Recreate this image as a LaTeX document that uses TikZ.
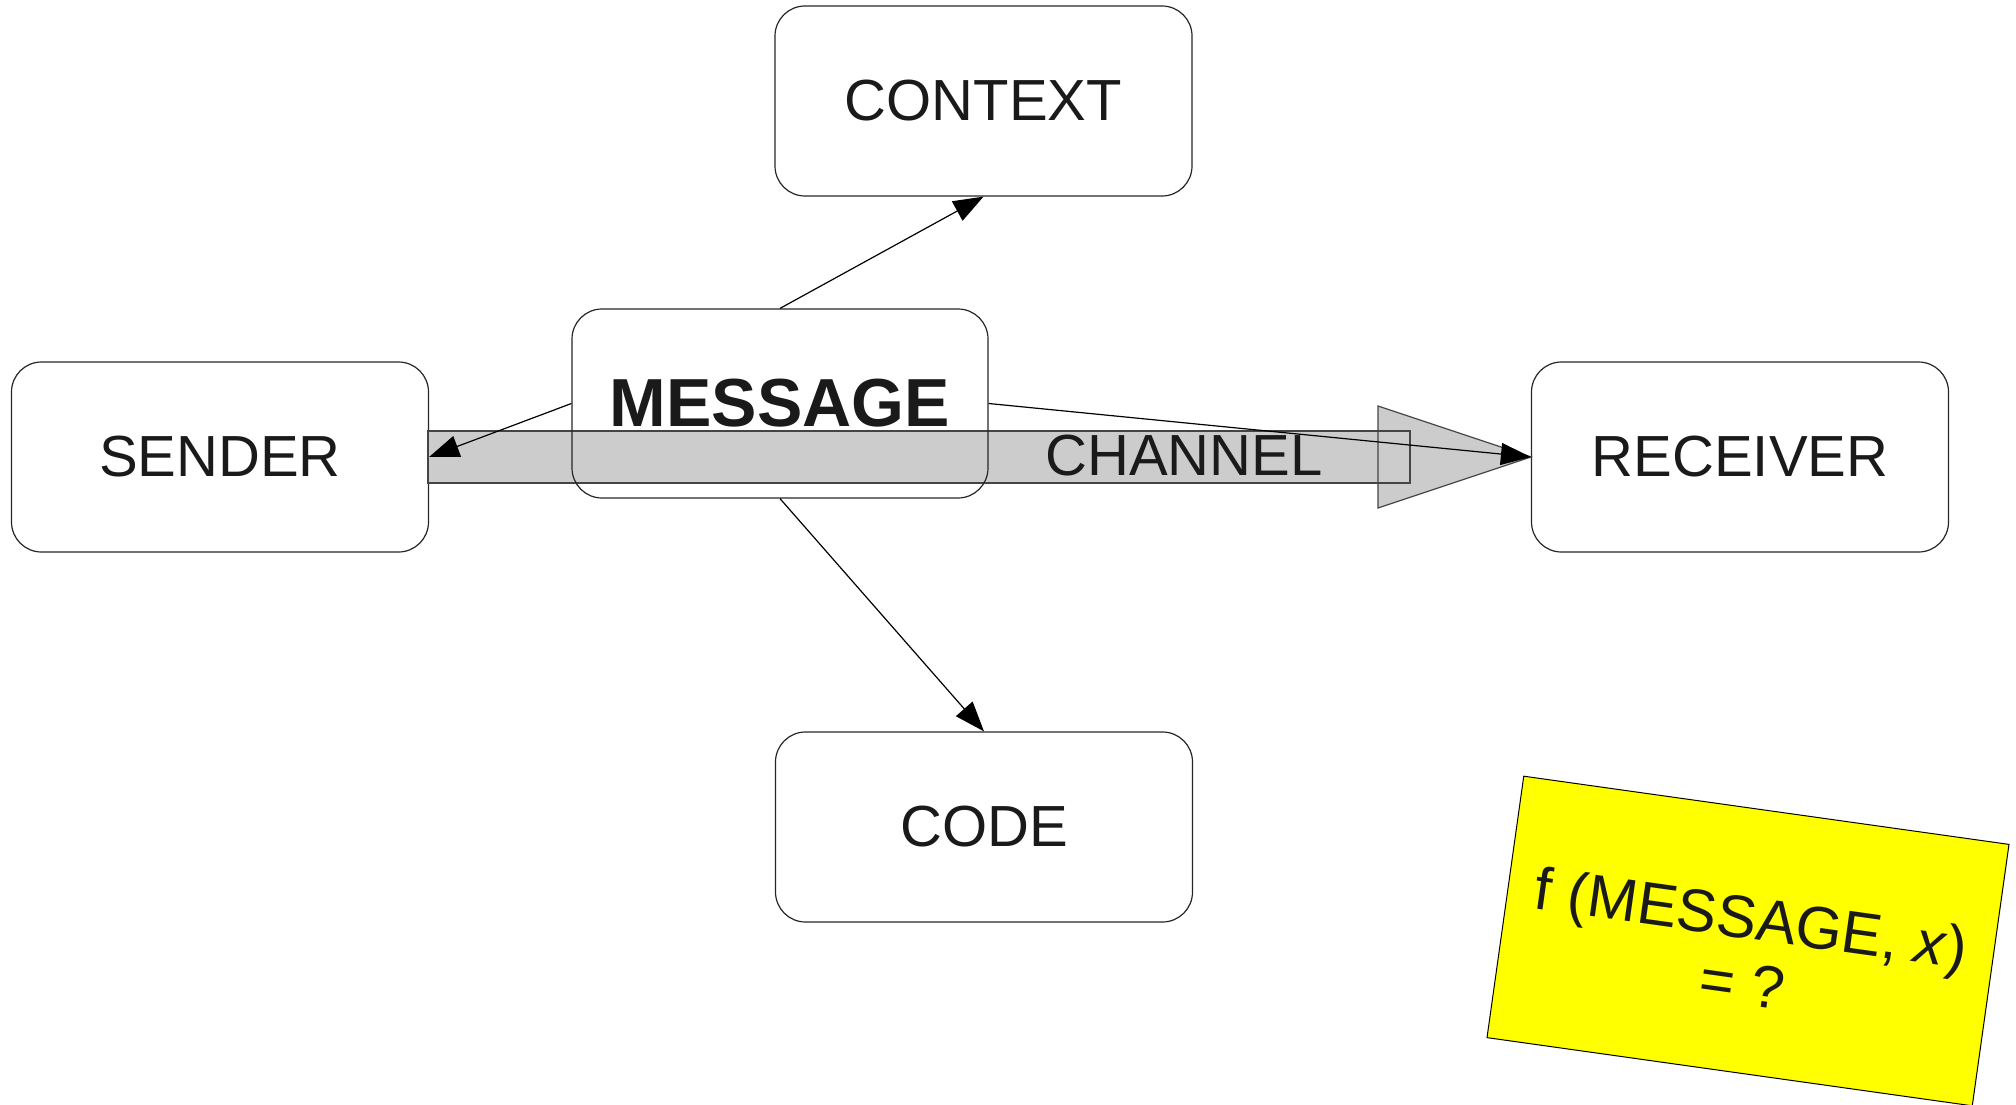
\documentclass[tikz,border=0pt]{standalone}
\usepackage{fontspec}
\setmainfont{Liberation Sans}
\usetikzlibrary{arrows.meta}
\definecolor{txt}{HTML}{1A1A1A}
\definecolor{band}{HTML}{CCCCCC}
\definecolor{bandline}{HTML}{444444}
\definecolor{note}{HTML}{FFFF00}
\tikzset{
  box/.style={draw=black!85, line width=1.2pt, rounded corners=30pt, rectangle,
    minimum width=417pt, minimum height=190pt, inner sep=0pt, text=txt,
    font=\fontsize{58}{60}\selectfont},
  conn/.style={draw=black, line width=1.2pt, -{Triangle[length=30pt,width=22pt]}},
}
\begin{document}
\begin{tikzpicture}[x=1pt,y=-1pt]
\useasboundingbox (0,0) rectangle (2016,1105);
\node[box] (sender)   at (220,457)   {SENDER};
\node[box] (receiver) at (1740,457)  {RECEIVER};
\node[box] (context)  at (983.5,101) {CONTEXT};
\node[box] (code)     at (984,827)   {CODE};
% channel
\coordinate (shaftA) at (428,431);
\coordinate (shaftB) at (1410,483);
\coordinate (triA) at (1378,406);
\coordinate (triB) at (1378,508);
\fill[band] (shaftA) rectangle (shaftB);
\fill[band] (triA) -- (receiver.west) -- (triB) -- cycle;
\draw[bandline, line width=1.2pt] (shaftA) rectangle (shaftB);
\draw[bandline, line width=1.2pt] (triA) -- (receiver.west) -- (triB) -- cycle;
\node[text=txt, font=\fontsize{58}{60}\selectfont] (channel) at (1184,456) {CHANNEL};
% message
\node[box, minimum width=416pt, minimum height=189pt, font=\fontsize{68}{70}\selectfont\bfseries] (message) at (780,403.5) {MESSAGE};
% arrows
\draw[conn] (message.north) -- (context.south);
\draw[conn] (message.west) -- (sender.east);
\draw[conn] (message.east) -- (receiver.west);
\draw[conn] (message.south) -- (code.north);
% yellow note
\node[rectangle, draw=black, fill=note, line width=1pt, rotate=-8,
  minimum width=490pt, minimum height=264pt] (fnote) at (1748,941) {};
\node[rotate=-8, yshift=-9pt, align=center, text=txt,
  font=\fontsize{60}{66}\selectfont] (fnotetext) at (fnote.center)
  {f (MESSAGE, \textit{x})\\= ?};
\end{tikzpicture}
\end{document}
